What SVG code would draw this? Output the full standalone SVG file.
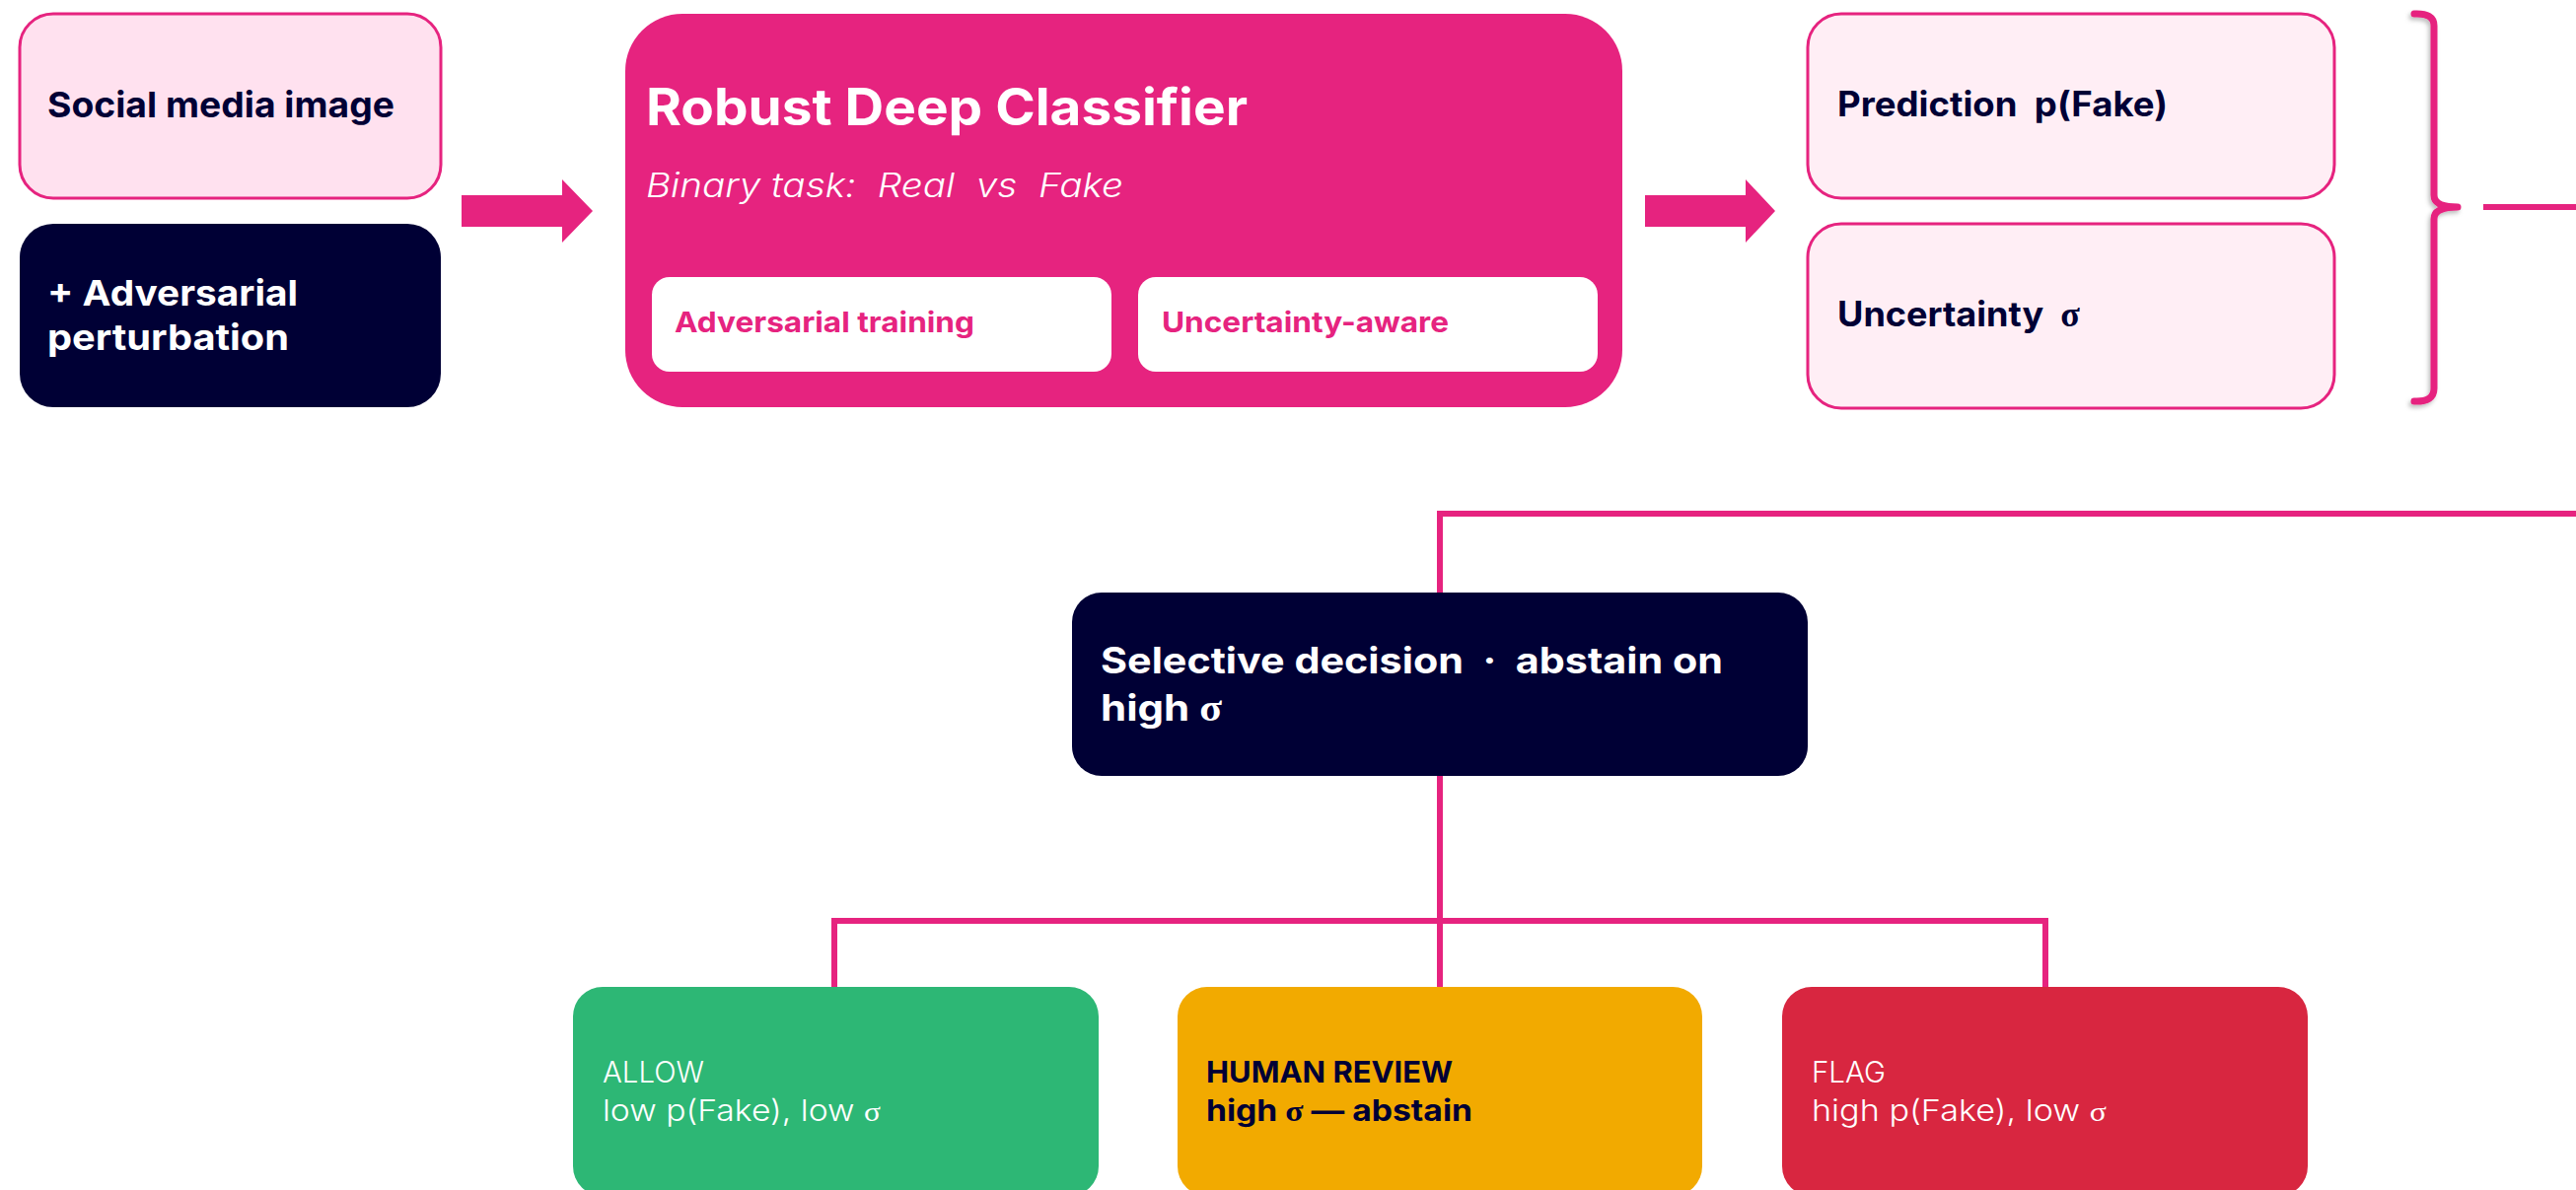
<svg xmlns="http://www.w3.org/2000/svg" width="2612" height="1207" viewBox="0 0 2612 1207">
  <defs>
    <style>
      .t { font-family: Inter, "Noto Sans", "Liberation Sans", sans-serif; }
      .bold { font-weight: 700; }
      .light { font-weight: 300; }
      .navy { fill: #000035; }
      .white { fill: #ffffff; }
      .pink { fill: #E6237F; }
      .sig { font-family: "Liberation Serif", "DejaVu Serif", serif; }
      .wire { stroke: #E6237F; stroke-width: 6; fill: none; }
      .soft { fill: #FFE1EF; stroke: #E6237F; stroke-width: 3; }
      .softer { fill: #FFEEF5; stroke: #E6237F; stroke-width: 3; }
      .dark { fill: #000035; }
    </style>
    <filter id="braceShadow" x="-50%" y="-5%" width="200%" height="110%">
      <feDropShadow dx="-2" dy="3" stdDeviation="2" flood-color="#000000" flood-opacity="0.25"/>
    </filter>
  </defs>

  <!-- connectors -->
  <g id="connectors">
    <polygon points="468,198 570,198 570,182 601,214 570,246 570,230 468,230" fill="#E6237F"/>
    <polygon points="1668,198 1770,198 1770,182 1800,214 1770,246 1770,230 1668,230" fill="#E6237F"/>
    <path filter="url(#braceShadow)" d="M2448,14 Q2468,13 2468,26 V198 Q2468,210 2492,210 Q2468,210 2468,222 V394 Q2468,408 2448,407" fill="none" stroke="#E6237F" stroke-width="7" stroke-linecap="round" stroke-linejoin="round"/>
    <line class="wire" x1="2518" y1="210" x2="2612" y2="210"/>
    <line class="wire" x1="1460" y1="521" x2="2612" y2="521"/>
    <line class="wire" x1="1460" y1="518" x2="1460" y2="601"/>
    <line class="wire" x1="1460" y1="787" x2="1460" y2="1001"/>
    <line class="wire" x1="843" y1="934" x2="2077" y2="934"/>
    <line class="wire" x1="846" y1="931" x2="846" y2="1001"/>
    <line class="wire" x1="2074" y1="931" x2="2074" y2="1001"/>
  </g>

  <!-- inputs -->
  <g id="social-image">
    <rect class="soft" x="20" y="14" width="427" height="187" rx="34"/>
    <text class="t bold navy" x="48" y="119" font-size="36" textLength="352" lengthAdjust="spacingAndGlyphs">Social media image</text>
  </g>
  <g id="adversarial">
    <rect class="dark" x="20" y="227" width="427" height="186" rx="34"/>
    <text class="t bold white" x="48" y="310" font-size="36" textLength="254" lengthAdjust="spacingAndGlyphs">+ Adversarial</text>
    <text class="t bold white" x="48" y="355" font-size="36" textLength="245" lengthAdjust="spacingAndGlyphs">perturbation</text>
  </g>

  <!-- classifier -->
  <g id="classifier">
    <rect x="634" y="14" width="1011" height="399" rx="58" fill="#E6237F"/>
    <text class="t bold white" x="655" y="127" font-size="52" textLength="610" lengthAdjust="spacingAndGlyphs">Robust Deep Classifier</text>
    <text class="t light white" x="655" y="200" font-size="34" font-style="italic" xml:space="preserve" textLength="484" lengthAdjust="spacingAndGlyphs">Binary task:  Real  vs  Fake</text>
  </g>
  <g id="adv-training">
    <rect x="661" y="281" width="466" height="96" rx="18" fill="#ffffff"/>
    <text class="t bold pink" x="684" y="337" font-size="29" textLength="304" lengthAdjust="spacingAndGlyphs">Adversarial training</text>
  </g>
  <g id="uncertainty-aware">
    <rect x="1154" y="281" width="466" height="96" rx="18" fill="#ffffff"/>
    <text class="t bold pink" x="1178" y="337" font-size="29" textLength="291" lengthAdjust="spacingAndGlyphs">Uncertainty-aware</text>
  </g>

  <!-- outputs -->
  <g id="prediction">
    <rect class="softer" x="1833" y="14" width="534" height="187" rx="34"/>
    <text class="t bold navy" x="1863" y="118" font-size="35" xml:space="preserve" textLength="335" lengthAdjust="spacingAndGlyphs">Prediction  p(Fake)</text>
  </g>
  <g id="uncertainty">
    <rect class="softer" x="1833" y="227" width="534" height="187" rx="34"/>
    <text class="t bold navy" x="1863" y="331" font-size="35" xml:space="preserve" textLength="246" lengthAdjust="spacingAndGlyphs">Uncertainty  <tspan class="sig">σ</tspan></text>
  </g>

  <!-- decision -->
  <g id="selective-decision">
    <rect class="dark" x="1087" y="601" width="746" height="186" rx="30"/>
    <text class="t bold white" x="1116" y="683" font-size="37" xml:space="preserve" textLength="631" lengthAdjust="spacingAndGlyphs">Selective decision  ·  abstain on</text>
    <text class="t bold white" x="1116" y="731" font-size="37" textLength="123" lengthAdjust="spacingAndGlyphs">high <tspan class="sig">σ</tspan></text>
  </g>

  <!-- outcomes -->
  <g id="allow">
    <rect x="581" y="1001" width="533" height="212" rx="30" fill="#2DB775"/>
    <text class="t light white" x="611" y="1098" font-size="30" textLength="103" lengthAdjust="spacingAndGlyphs">ALLOW</text>
    <text class="t light white" x="611" y="1137" font-size="30" textLength="282" lengthAdjust="spacingAndGlyphs">low p(Fake), low <tspan class="sig" font-size="28">σ</tspan></text>
  </g>
  <g id="human-review">
    <rect x="1194" y="1001" width="532" height="212" rx="30" fill="#F2AA00"/>
    <text class="t bold navy" x="1223" y="1098" font-size="30" textLength="250" lengthAdjust="spacingAndGlyphs">HUMAN REVIEW</text>
    <text class="t bold navy" x="1223" y="1137" font-size="30" textLength="270" lengthAdjust="spacingAndGlyphs">high <tspan class="sig">σ</tspan> — abstain</text>
  </g>
  <g id="flag">
    <rect x="1807" y="1001" width="533" height="212" rx="30" fill="#D82640"/>
    <text class="t light white" x="1837" y="1098" font-size="30" textLength="75" lengthAdjust="spacingAndGlyphs">FLAG</text>
    <text class="t light white" x="1837" y="1137" font-size="30" textLength="299" lengthAdjust="spacingAndGlyphs">high p(Fake), low <tspan class="sig" font-size="28">σ</tspan></text>
  </g>
</svg>
